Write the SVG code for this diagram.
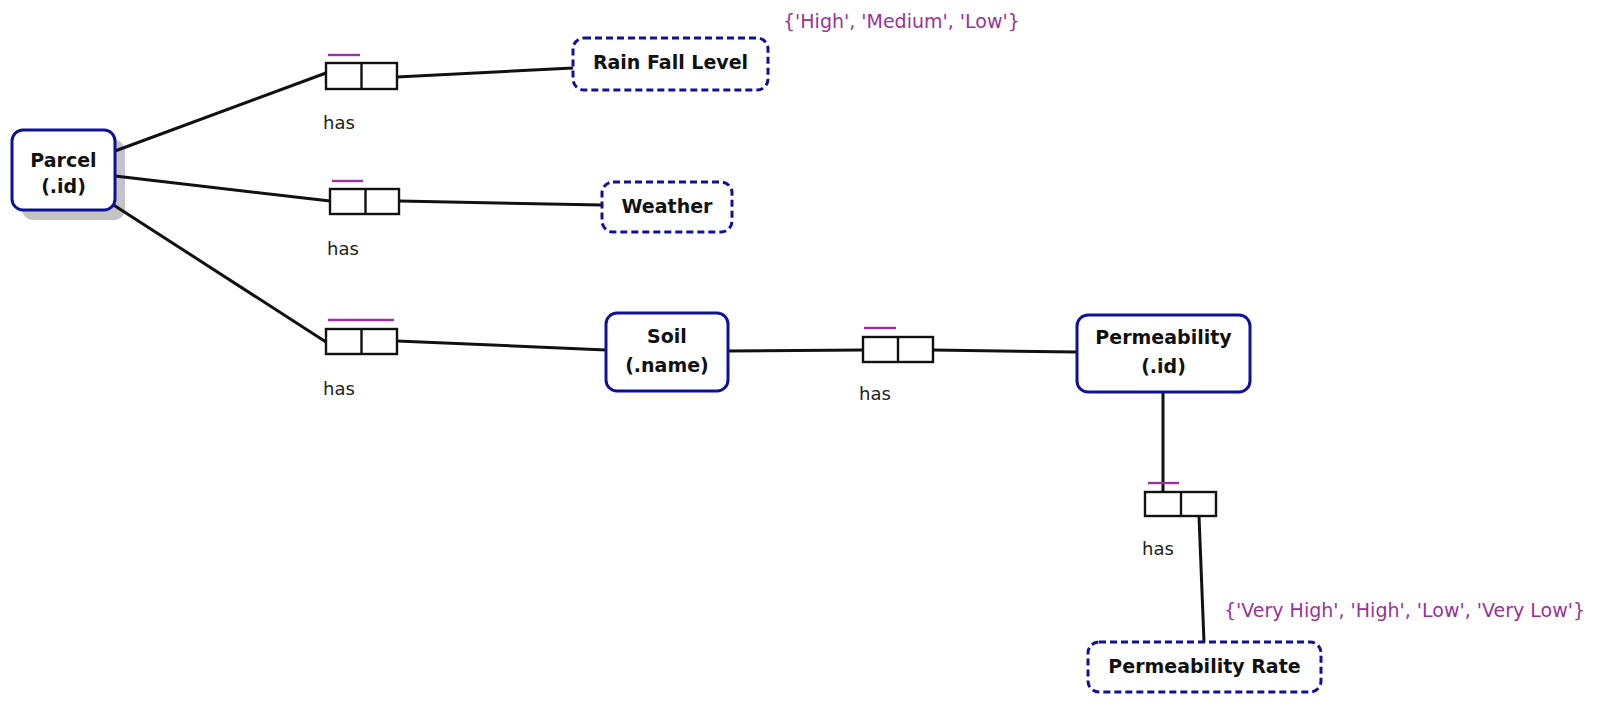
<svg xmlns="http://www.w3.org/2000/svg" width="1599" height="705" viewBox="0 0 1599 705">
  <style>
    .entity { fill: #ffffff; stroke: #101099; stroke-width: 3; }
    .value { fill: #ffffff; stroke: #101099; stroke-width: 3; stroke-dasharray: 7 4; }
    .shadow { fill: #c4c4c4; }
    .label { font-family: "DejaVu Sans", Verdana, sans-serif; font-weight: bold; font-size: 19px; fill: #111111; text-anchor: middle; }
    .role { fill: #ffffff; stroke: #111111; stroke-width: 2.4; }
    .divider { stroke: #111111; stroke-width: 2.4; }
    .uniq { stroke: #993399; stroke-width: 2.4; }
    .rolename { font-family: "DejaVu Sans", Verdana, sans-serif; font-size: 18px; fill: #222222; }
    .valueset { font-family: "DejaVu Sans", Verdana, sans-serif; font-size: 19px; fill: #993399; }
    .conn { stroke: #111111; stroke-width: 3; fill: none; }
  </style>

  <!-- drop shadow under the Parcel entity -->
  <rect id="parcel-shadow" class="shadow" x="22" y="140" width="103" height="80" rx="11"/>

  <!-- connectors -->
  <g id="connectors">
    <line class="conn" x1="115" y1="151" x2="326" y2="73"/>
    <line class="conn" x1="397" y1="77" x2="573" y2="68"/>
    <line class="conn" x1="115" y1="176" x2="330" y2="201"/>
    <line class="conn" x1="399" y1="201" x2="602" y2="205"/>
    <line class="conn" x1="112" y1="204" x2="326" y2="342"/>
    <line class="conn" x1="397" y1="341" x2="606" y2="350"/>
    <line class="conn" x1="728" y1="351" x2="863" y2="350"/>
    <line class="conn" x1="933" y1="350" x2="1077" y2="352"/>
    <line class="conn" x1="1163" y1="392" x2="1163" y2="492"/>
    <line class="conn" x1="1199" y1="516" x2="1204" y2="642"/>
  </g>

  <!-- entity: Parcel -->
  <g id="parcel">
    <rect class="entity" x="12" y="130" width="103" height="80" rx="11"/>
    <text class="label" x="63.5" y="167">Parcel</text>
    <text class="label" x="63.5" y="193">(.id)</text>
  </g>

  <!-- value: Rain Fall Level -->
  <g id="rain-fall-level">
    <rect class="value" x="573" y="38" width="195" height="52" rx="11"/>
    <text class="label" x="670.5" y="69">Rain Fall Level</text>
  </g>
  <text class="valueset" x="783" y="28">{'High', 'Medium', 'Low'}</text>

  <!-- value: Weather -->
  <g id="weather">
    <rect class="value" x="602" y="182" width="130" height="50" rx="11"/>
    <text class="label" x="667" y="213">Weather</text>
  </g>

  <!-- entity: Soil -->
  <g id="soil">
    <rect class="entity" x="606" y="313" width="122" height="78" rx="11"/>
    <text class="label" x="667" y="343">Soil</text>
    <text class="label" x="667" y="372">(.name)</text>
  </g>

  <!-- entity: Permeability -->
  <g id="permeability">
    <rect class="entity" x="1077" y="315" width="173" height="77" rx="11"/>
    <text class="label" x="1163.5" y="344">Permeability</text>
    <text class="label" x="1163.5" y="373">(.id)</text>
  </g>

  <!-- value: Permeability Rate -->
  <g id="permeability-rate">
    <rect class="value" x="1088" y="642" width="233" height="50" rx="11"/>
    <text class="label" x="1204.5" y="673">Permeability Rate</text>
  </g>
  <text class="valueset" x="1224" y="617">{'Very High', 'High', 'Low', 'Very Low'}</text>

  <!-- fact types -->
  <g id="fact-parcel-rainfall">
    <rect class="role" x="326" y="63" width="71" height="26"/>
    <line class="divider" x1="361.5" y1="63" x2="361.5" y2="89"/>
    <line class="uniq" x1="328" y1="55" x2="360" y2="55"/>
    <text class="rolename" x="323" y="129">has</text>
  </g>

  <g id="fact-parcel-weather">
    <rect class="role" x="330" y="189" width="69" height="25"/>
    <line class="divider" x1="365.5" y1="189" x2="365.5" y2="214"/>
    <line class="uniq" x1="332" y1="181" x2="363" y2="181"/>
    <text class="rolename" x="327" y="255">has</text>
  </g>

  <g id="fact-parcel-soil">
    <rect class="role" x="326" y="329" width="71" height="25"/>
    <line class="divider" x1="361.5" y1="329" x2="361.5" y2="354"/>
    <line class="uniq" x1="328" y1="320" x2="394" y2="320"/>
    <text class="rolename" x="323" y="395">has</text>
  </g>

  <g id="fact-soil-permeability">
    <rect class="role" x="863" y="337" width="70" height="25"/>
    <line class="divider" x1="898" y1="337" x2="898" y2="362"/>
    <line class="uniq" x1="864" y1="328" x2="896" y2="328"/>
    <text class="rolename" x="859" y="400">has</text>
  </g>

  <g id="fact-permeability-rate">
    <rect class="role" x="1145" y="492" width="71" height="24"/>
    <line class="divider" x1="1181" y1="492" x2="1181" y2="516"/>
    <line class="uniq" x1="1148" y1="483" x2="1179" y2="483"/>
    <text class="rolename" x="1142" y="555">has</text>
  </g>
</svg>
